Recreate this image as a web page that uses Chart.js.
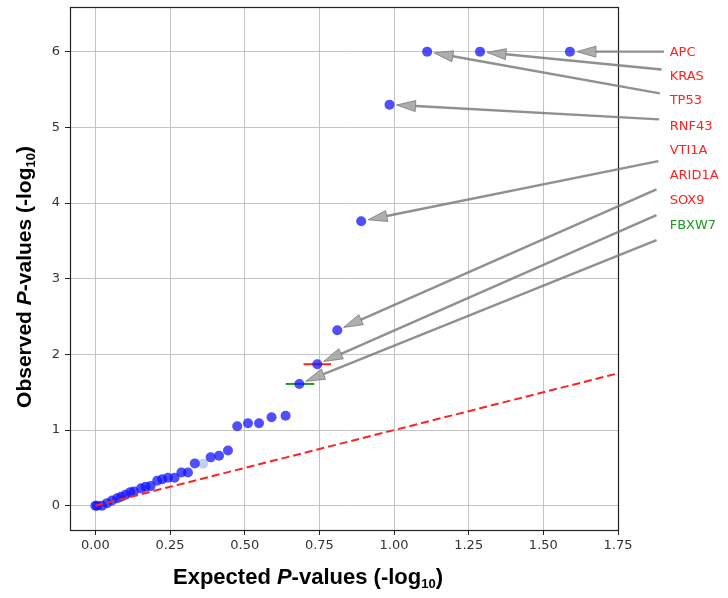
<!DOCTYPE html>
<html>
<head>
<meta charset="utf-8">
<script src="https://cdn.jsdelivr.net/npm/chart.js@4"></script>
<style>
  html, body { margin: 0; padding: 0; background: #fff; }
  #wrap { width: 728px; height: 598px; }
</style>
</head>
<body>
<div id="wrap"><canvas id="qq"></canvas></div>
<script>
// Q-Q plot values: expected vs observed -log10 p
const expected = [0.0, 0.006, 0.022, 0.039, 0.056, 0.073, 0.086, 0.101, 0.117, 0.129,
                  0.153, 0.168, 0.185, 0.207, 0.224, 0.243, 0.265, 0.288, 0.310, 0.333,
                  0.386, 0.414, 0.444, 0.475, 0.511, 0.548, 0.590, 0.637, 0.683, 0.743,
                  0.810, 0.890, 0.985, 1.111, 1.288, 1.589]
const observed = [0.0, 0.0, 0.0, 0.035, 0.07, 0.10, 0.12, 0.145, 0.18, 0.19,
                  0.23, 0.25, 0.26, 0.33, 0.35, 0.37, 0.37, 0.44, 0.44, 0.56,
                  0.64, 0.66, 0.73, 1.05, 1.09, 1.09, 1.17, 1.19, 1.61, 1.87,
                  2.32, 3.76, 5.30, 6.0, 6.0, 6.0]
// one faint point in the middle of the cloud
const fadedExpected = [0.361]
const fadedObserved = [0.555]

// labelled genes: point they mark, where the arrow starts, where the label sits
const genes  = ['APC', 'KRAS', 'TP53', 'RNF43', 'VTI1A', 'ARID1A', 'SOX9', 'FBXW7']
const geneX  = [1.589, 1.288, 1.111, 0.985, 0.890, 0.810, 0.743, 0.683]
const geneY  = [6.0, 6.0, 6.0, 5.30, 3.76, 2.32, 1.87, 1.61]
const tailX  = [1.904, 1.896, 1.890, 1.888, 1.885, 1.879, 1.879, 1.879]
const tailY  = [6.0, 5.765, 5.448, 5.105, 4.554, 4.181, 3.841, 3.511]
const labelX = 1.923
const labelY = [5.99, 5.67, 5.35, 5.01, 4.69, 4.36, 4.03, 3.70]

// horizontal bars on SOX9 and FBXW7
const sox9Range  = [0.697, 0.789]
const fbxw7Range = [0.637, 0.733]

const xTicks = [0, 0.25, 0.5, 0.75, 1.0, 1.25, 1.5, 1.75]
const yTicks = [0, 1, 2, 3, 4, 5, 6]

const RED = '#ff2222'
const GREEN = '#1f9a1f'
function gene_color(name) {
    return name === 'FBXW7' ? GREEN : RED
}

let pts = expected.map((x, i) => ({x, y: observed[i]}))
let faded = fadedExpected.map((x, i) => ({x, y: fadedObserved[i]}))

// Draws text pieces (bold / italic / subscript) centred on 0,0 of the current transform
function draw_rich(ctx, parts) {
    let total = 0
    for (let p of parts) {
        ctx.font = p.font
        p.w = ctx.measureText(p.t).width
        total += p.w
    }
    let x = -total / 2
    ctx.textBaseline = 'middle'
    ctx.textAlign = 'left'
    for (let p of parts) {
        ctx.font = p.font
        ctx.fillText(p.t, x, p.dy || 0)
        x += p.w
    }
}

function title_parts(word, size) {
    let F = '"Liberation Sans", Arial, sans-serif'
    return [
        {t: word + ' ', font: `bold ${size}px ` + F},
        {t: 'P', font: `italic bold ${size}px ` + F},
        {t: '-values (-log', font: `bold ${size}px ` + F},
        {t: '10', font: 'bold 13px ' + F, dy: 6},
        {t: ')', font: `bold ${size}px ` + F},
    ]
}

const extras = {
    id: 'extras',
    afterDatasetsDraw(chart) {
        let ctx = chart.ctx
        let xs = chart.scales.x, ys = chart.scales.y
        let a = chart.chartArea
        ctx.save()

        // frame all round
        ctx.strokeStyle = '#222'
        ctx.lineWidth = 1.2
        ctx.strokeRect(a.left + 0.5, a.top + 0.5, a.right - a.left, a.bottom - a.top)

        // arrows from labels to points
        for (let i = 0; i < genes.length; i++) {
            let x0 = xs.getPixelForValue(tailX[i]), y0 = ys.getPixelForValue(tailY[i])
            let x1 = xs.getPixelForValue(geneX[i]), y1 = ys.getPixelForValue(geneY[i])
            let dx = x1 - x0, dy = y1 - y0
            let len = Math.hypot(dx, dy)
            let ux = dx / len, uy = dy / len
            // stop short of the dot
            let tx = x1 - ux * 7, ty = y1 - uy * 7
            let hl = 19, hw = 5.5
            let bx = tx - ux * hl, by = ty - uy * hl
            ctx.strokeStyle = 'rgba(125,125,125,0.85)'
            ctx.lineWidth = 2.4
            ctx.beginPath()
            ctx.moveTo(x0, y0)
            ctx.lineTo(bx, by)
            ctx.stroke()
            ctx.beginPath()
            ctx.moveTo(tx, ty)
            ctx.lineTo(bx - uy * hw, by + ux * hw)
            ctx.lineTo(bx + uy * hw, by - ux * hw)
            ctx.closePath()
            ctx.fillStyle = 'rgba(160,160,160,0.85)'
            ctx.fill()
            ctx.lineWidth = 1
            ctx.strokeStyle = 'rgba(125,125,125,0.85)'
            ctx.stroke()
        }

        // gene labels
        ctx.font = '13px "DejaVu Sans", sans-serif'
        ctx.textAlign = 'left'
        ctx.textBaseline = 'middle'
        for (let i = 0; i < genes.length; i++) {
            ctx.fillStyle = gene_color(genes[i])
            ctx.fillText(genes[i], xs.getPixelForValue(labelX), ys.getPixelForValue(labelY[i]))
        }

        // axis titles
        ctx.fillStyle = '#000'
        ctx.save()
        ctx.translate(308, 578)
        draw_rich(ctx, title_parts('Expected', 22))
        ctx.restore()
        ctx.save()
        ctx.translate(25, 277)
        ctx.rotate(-Math.PI / 2)
        draw_rich(ctx, title_parts('Observed', 21))
        ctx.restore()

        ctx.restore()
    }
}

new Chart(document.getElementById('qq'), {
    type: 'scatter',
    data: {
        datasets: [
            {
                label: 'expected',
                type: 'line',
                data: [{x: 0, y: 0}, {x: 1.75, y: 1.75}],
                borderColor: RED,
                borderWidth: 2,
                borderDash: [8, 4],
                pointRadius: 0,
            },
            {
                label: 'genes',
                data: pts,
                backgroundColor: 'rgba(20,20,255,0.75)',
                borderWidth: 0,
                pointRadius: 5,
            },
            {
                label: 'faded',
                data: faded,
                backgroundColor: 'rgba(120,150,235,0.45)',
                borderWidth: 0,
                pointRadius: 5,
            },
            {
                label: 'SOX9',
                type: 'line',
                data: sox9Range.map(x => ({x, y: geneY[6]})),
                borderColor: RED,
                borderWidth: 2,
                pointRadius: 0,
            },
            {
                label: 'FBXW7',
                type: 'line',
                data: fbxw7Range.map(x => ({x, y: geneY[7]})),
                borderColor: GREEN,
                borderWidth: 2,
                pointRadius: 0,
            },
        ]
    },
    options: {
        responsive: true,
        maintainAspectRatio: false,
        animation: false,
        layout: { padding: { top: 7, right: 110, left: 0, bottom: 0 } },
        plugins: { legend: { display: false }, tooltip: { enabled: false } },
        scales: {
            x: {
                type: 'linear',
                min: -0.085,
                max: 1.75,
                afterFit: (s) => { s.height = 68; s.paddingLeft = 0; s.paddingRight = 0 },
                afterBuildTicks: (s) => { s.ticks = xTicks.map(v => ({value: v})) },
                ticks: {
                    includeBounds: false,
                    padding: 3,
                    color: '#333',
                    font: { family: '"DejaVu Sans", sans-serif', size: 13 },
                    callback: v => v.toFixed(2),
                },
                grid: { color: '#c4c4c4', tickColor: '#222', tickLength: 5, lineWidth: 1 },
                border: { display: true, color: '#222', width: 1 },
            },
            y: {
                type: 'linear',
                min: -0.32,
                max: 6.59,
                afterFit: (s) => { s.width = 70; s.paddingTop = 0; s.paddingBottom = 0 },
                afterBuildTicks: (s) => { s.ticks = yTicks.map(v => ({value: v})) },
                ticks: {
                    includeBounds: false,
                    padding: 5,
                    color: '#333',
                    font: { family: '"DejaVu Sans", sans-serif', size: 13 },
                    callback: v => String(v),
                },
                grid: { color: '#c4c4c4', tickColor: '#222', tickLength: 5, lineWidth: 1 },
                border: { display: true, color: '#222', width: 1 },
            },
        }
    },
    plugins: [extras]
})
</script>
</body>
</html>
